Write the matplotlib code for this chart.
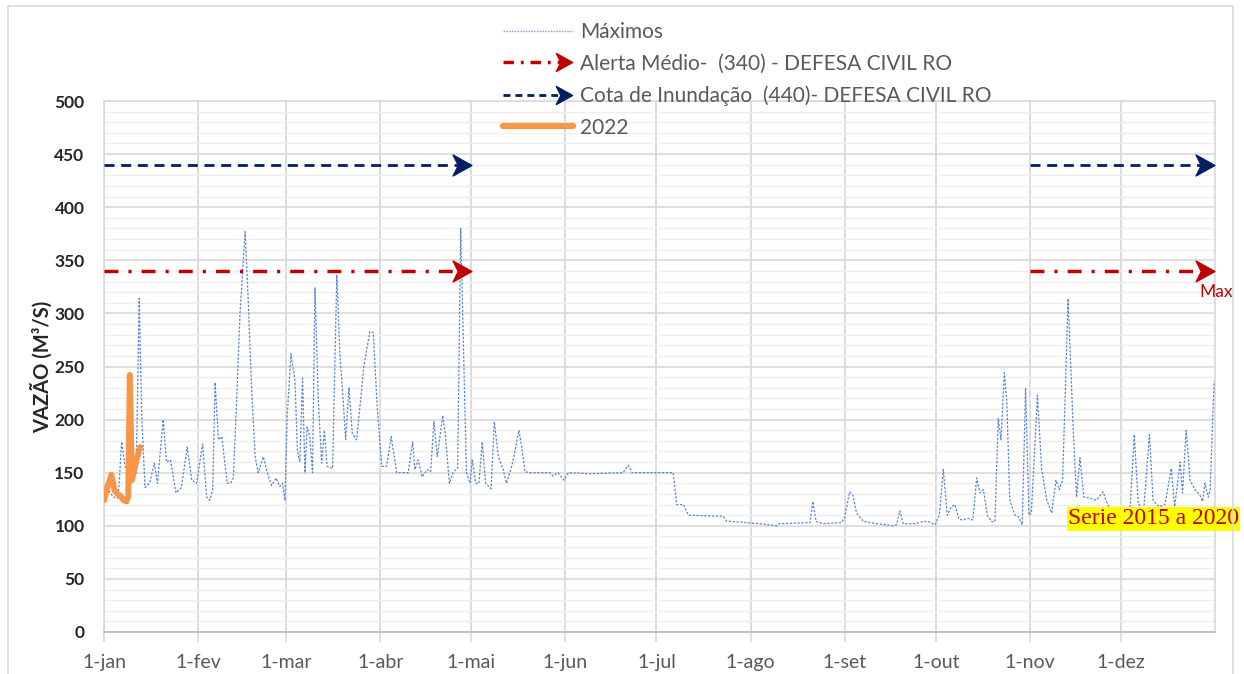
"""Vazao maxima diaria (serie 2015 a 2020) x 2022, com cotas da Defesa Civil."""

import numpy as np
import matplotlib
matplotlib.use("Agg")
import matplotlib.pyplot as plt
from matplotlib.lines import Line2D
from matplotlib.legend_handler import HandlerLine2D
from matplotlib.path import Path
from matplotlib.patches import Rectangle

# dias contados a partir de 1-jan (ano bissexto)
meses_dia = [0, 31, 60, 91, 121, 152, 182, 213, 244, 274, 305, 335]
meses_rotulo = ["1-jan", "1-fev", "1-mar", "1-abr", "1-mai", "1-jun",
                "1-jul", "1-ago", "1-set", "1-out", "1-nov", "1-dez"]

maximos_dia = [
    0, 0.7, 2.0, 3.2, 4.5, 5.0, 5.8, 7.0, 8.5, 9.5, 10.6, 11.6, 12.4, 13.5, 15.0,
    16.6, 17.6, 19.5, 20.6, 21.9, 23.7, 25.5, 27.4, 28.9, 30.5, 32.5, 33.8, 34.9,
    35.8, 36.6, 37.7, 38.8, 40.6, 41.7, 42.6, 43.7, 44.8, 46.5, 47.5, 48.6, 49.8,
    50.8, 52.5, 53.8, 55.2, 56.7, 57.9, 58.8, 59.6, 60.4, 61.6, 62.9, 63.7, 64.5,
    65.4, 66.2, 66.9, 67.8, 68.7, 69.5, 70.6, 71.7, 72.6, 73.5, 75.3, 76.7, 77.7,
    78.8, 79.6, 80.7, 81.8, 83.2, 84.3, 85.6, 87.6, 88.7, 90.0, 91.5, 93.1, 94.6,
    96.4, 98.6, 100.2, 101.7, 102.4, 103.5, 104.8, 106.5, 107.6, 108.7, 109.8,
    111.6, 112.4, 113.8, 115.1, 116.5, 117.5, 119.4, 120.6, 121.3, 122.5, 123.5,
    124.6, 125.7, 127.5, 128.6, 129.9, 131.5, 132.6, 134.0, 134.8, 136.7, 137.6,
    138.7, 140.0, 147.0, 147.8, 149.6, 151.5, 153.0, 160.0, 171.0, 172.7, 174.0,
    187.5, 188.7, 190.9, 192.5, 204.0, 205.0, 211.6, 216.0, 221.6, 222.5, 232.6,
    233.5, 234.6, 237.0, 243.0, 244.1, 245.6, 246.7, 247.9, 250.2, 254.5, 260.0,
    261.1, 262.2, 263.3, 267.2, 270.0, 271.6, 273.8, 275.2, 276.5, 277.8, 279.2,
    280.3, 281.7, 283.0, 284.7, 286.2, 287.5, 288.6, 289.7, 291.0, 292.4, 293.5,
    294.6, 295.5, 296.6, 297.4, 298.4, 300.1, 301.2, 302.5, 303.6, 304.7, 305.5,
    307.5, 308.9, 310.6, 312.2, 313.6, 314.7, 315.8, 317.6, 319.3, 320.4, 321.5,
    322.8, 324.7, 326.9, 329.1, 330.2, 332.0, 334.0, 336.0, 338.0, 339.4, 340.7,
    342.5, 344.4, 345.6, 347.5, 349.5, 351.6, 352.7, 354.5, 355.3, 356.5, 357.8,
    359.4, 361.0, 361.9, 362.7, 363.8, 364.4, 365.7,
]
maximos_vazao = [
    133, 140, 131, 127, 126, 140, 179, 155, 146, 143, 150, 314, 206, 136, 140,
    159, 140, 200, 160, 162, 131, 136, 174, 143, 140, 177, 127, 124,
    134, 235, 181, 184, 140, 140, 145, 218, 300, 377, 313, 231, 165,
    150, 165, 150, 138, 145, 137, 140, 124, 206, 262, 237, 171, 160,
    239, 150, 193, 184, 150, 324, 218, 159, 190, 156, 154, 336, 262,
    218, 181, 230, 187, 181, 212, 250, 283, 282, 212, 156, 156, 184,
    150, 150, 150, 179, 153, 162, 146, 153, 151, 198, 165,
    204, 187, 140, 151, 154, 380, 150, 140, 162, 140, 140,
    179, 140, 135, 198, 165, 153, 140, 153, 162, 190, 174,
    151, 150, 150, 147, 150, 143, 150, 149, 150, 157, 150,
    150, 120, 120, 110, 109, 104.5, 103, 102, 100, 102, 103,
    123, 104, 102, 103, 108.6, 132, 129, 112, 104, 102, 100,
    101, 114, 102, 102, 104, 104, 101, 110, 153, 110, 118,
    120, 106, 105.5, 107, 105.5, 145, 131, 134, 110, 104, 104,
    201, 181, 244, 218, 124, 110, 108.6, 101, 230, 110, 112,
    223, 153, 124, 112, 143, 134, 143, 314, 190, 127, 164,
    127, 126, 124, 132, 123, 112, 118, 110, 115, 186, 121,
    115, 186, 124, 118, 120, 154, 118, 160, 131, 190, 143,
    134, 129, 123, 140, 127, 134, 236,
]

ano2022_dia = [0, 1.0, 2.4, 3.5, 4.5, 5.5, 6.5, 7.4, 8.0, 8.5, 9.2, 10.2, 11.0, 11.9]
ano2022_vazao = [124, 135, 148, 133, 130, 128, 124, 123, 128, 242, 143, 156, 165, 174]

alerta_medio = 340
cota_inundacao = 440
trechos_cota = [(0, 118.0), (305, 362.6)]

rotulo_maximos = "Máximos"
rotulo_alerta = "Alerta Médio-  (340) - DEFESA CIVIL RO"
rotulo_cota = "Cota de Inundação  (440)- DEFESA CIVIL RO"
rotulo_2022 = "2022"

AZUL = "#5585D2"
VERMELHO = "#C00000"
MARINHO = "#002060"
LARANJA = "#F79646"
CINZA_TXT = "#595959"

# ponta de seta tipo "stealth" do Excel
SETA = Path([(0.9, 0), (-0.9, 1), (-0.4, 0), (-0.9, -1), (0.9, 0)],
            [Path.MOVETO, Path.LINETO, Path.LINETO, Path.LINETO, Path.CLOSEPOLY])

plt.rcParams["font.family"] = ["Lato", "DejaVu Sans"]


class HandlerSeta(HandlerLine2D):
    """Linha da legenda com ponta de seta no fim."""

    def create_artists(self, legend, orig_handle, xdescent, ydescent,
                       width, height, fontsize, trans):
        y = height / 2 - ydescent
        x1 = width - xdescent
        linha = Line2D([-xdescent, x1 - 7], [y, y])
        linha.update_from(orig_handle)
        ponta = Line2D([x1 - 6], [y], marker=SETA, markersize=13, linestyle="none",
                       color=orig_handle.get_color())
        linha.set_transform(trans)
        ponta.set_transform(trans)
        return [linha, ponta]


fig = plt.figure(figsize=(12.44, 6.74), dpi=100)
fig.patches.append(Rectangle((8 / 1244, -0.01), 1225 / 1244, 1.0 - 6 / 674 + 0.01,
                             transform=fig.transFigure, fill=False,
                             edgecolor="#d9d9d9", linewidth=1.2, zorder=0))
ax = fig.add_axes([104 / 1244, 42 / 674, 1111 / 1244, 531 / 674])

ax.plot(maximos_dia, maximos_vazao, color=AZUL, linewidth=0.9,
        linestyle=(0, (1.8, 1.3)), zorder=3)

ls_alerta = (0, (4.0, 2.9, 0.9, 2.9))
ls_cota = (0, (3.6, 2.4))
for i0, i1 in trechos_cota:
    ax.plot([i0, i1], [alerta_medio, alerta_medio], color=VERMELHO, linewidth=2.5,
            linestyle=ls_alerta, zorder=4)
    ax.plot([i1], [alerta_medio], marker=SETA, markersize=15, color=VERMELHO,
            linestyle="none", zorder=5, clip_on=False)
    ax.plot([i0, i1], [cota_inundacao, cota_inundacao], color=MARINHO, linewidth=2.0,
            linestyle=ls_cota, zorder=4)
    ax.plot([i1], [cota_inundacao], marker=SETA, markersize=15, color=MARINHO,
            linestyle="none", zorder=5, clip_on=False)

ax.plot(ano2022_dia, ano2022_vazao, color=LARANJA, linewidth=4.3,
        solid_joinstyle="round", solid_capstyle="round", zorder=6)

ax.set_xlim(0, 366)
ax.set_ylim(0, 500)
ax.set_xticks(meses_dia)
ax.set_xticklabels(meses_rotulo)
ax.set_yticks(np.arange(0, 501, 50))
ax.set_yticks(np.arange(0, 501, 10), minor=True)
ax.grid(which="major", axis="y", color="#d9d9d9", linewidth=1.2)
ax.grid(which="minor", axis="y", color="#efefef", linewidth=1.0)
ax.grid(which="major", axis="x", color="#d9d9d9", linewidth=1.3)
ax.set_axisbelow(True)

for lado in ["left", "right", "top"]:
    ax.spines[lado].set_color("#d9d9d9")
    ax.spines[lado].set_linewidth(1.2)
ax.spines["bottom"].set_color("#bfbfbf")
ax.spines["bottom"].set_linewidth(1.3)

ax.tick_params(axis="x", which="major", length=7, color="#d9d9d9", width=1.2,
               pad=9, labelsize=14, labelcolor=CINZA_TXT)
ax.tick_params(axis="y", which="major", length=0, pad=14, labelsize=12.5,
               labelcolor="#262626")
ax.tick_params(axis="both", which="minor", length=0)
for t in ax.get_yticklabels():
    t.set_fontweight("bold")

ax.set_ylabel("VAZÃO (M³/S)", fontsize=14.5, fontweight="bold", color="#262626",
              labelpad=1)

ax.text(366.3, 320, "Max", color=VERMELHO, fontsize=12.5, ha="center", va="center",
        clip_on=False, zorder=7)
ax.text(345.7, 106.5, "Serie 2015 a 2020", color="#C00000", fontsize=17,
        family=["Liberation Serif", "DejaVu Serif"], ha="center", va="center",
        clip_on=False, zorder=8,
        bbox=dict(boxstyle="square,pad=0.05", facecolor="#FFFF00", edgecolor="none"))

handles = [
    Line2D([], [], color="#8EA9DB", linewidth=1.0, linestyle=(0, (1.2, 0.8))),
    Line2D([], [], color=VERMELHO, linewidth=2.5, linestyle=(0, (3.0, 2.0, 0.8, 2.0))),
    Line2D([], [], color=MARINHO, linewidth=2.0, linestyle=(0, (2.5, 1.8))),
    Line2D([], [], color=LARANJA, linewidth=4.5, solid_capstyle="round"),
]
leg = fig.legend(handles, [rotulo_maximos, rotulo_alerta, rotulo_cota, rotulo_2022],
                 loc="upper left", bbox_to_anchor=(503 / 1244, 1 - 22 / 674),
                 frameon=False, fontsize=15, handlelength=3.35, handletextpad=0.33,
                 labelspacing=0.56, borderpad=0, borderaxespad=0,
                 handler_map={handles[1]: HandlerSeta(), handles[2]: HandlerSeta()})
for t in leg.get_texts():
    t.set_color(CINZA_TXT)

fig.savefig("out.png", dpi=100)
plt.close(fig)
